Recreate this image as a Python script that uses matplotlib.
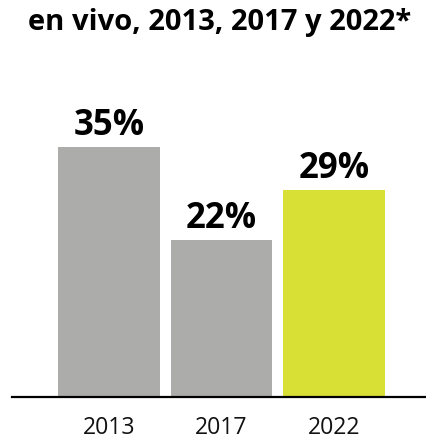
import matplotlib.pyplot as plt

years = ['2013', '2017', '2022']
values = [35, 22, 29]
colors = ['#acadab', '#acadab', '#d8e036']

plt.rcParams['font.family'] = ['Open Sans', 'DejaVu Sans']

fig = plt.figure(figsize=(4.27, 4.39), dpi=100)
ax = fig.add_axes([12 / 427, 41 / 439, 415 / 427, 398 / 439])

x = range(len(years))
ax.bar(x, values, width=0.9, color=colors)
for xi, v in zip(x, values):
    ax.text(xi, v + 1.8, f'{v}%', ha='center', va='baseline',
            fontsize=25, fontweight='bold', color='black')

ax.set_xlim(-0.862, 2.827)
ax.set_ylim(0, 55.7)
for s in ['top', 'right', 'left']:
    ax.spines[s].set_visible(False)
ax.spines['bottom'].set_linewidth(1.6)
ax.set_yticks([])
ax.set_xticks(list(x))
ax.set_xticklabels(years, fontsize=16.6, color='#111111')
ax.tick_params(axis='x', length=0, pad=13)

fig.text(28 / 427, 1 - 30 / 439, 'en vivo, 2013, 2017 y 2022*',
         fontsize=21, fontweight='bold', ha='left', va='baseline')

fig.savefig('out.png', dpi=100)
